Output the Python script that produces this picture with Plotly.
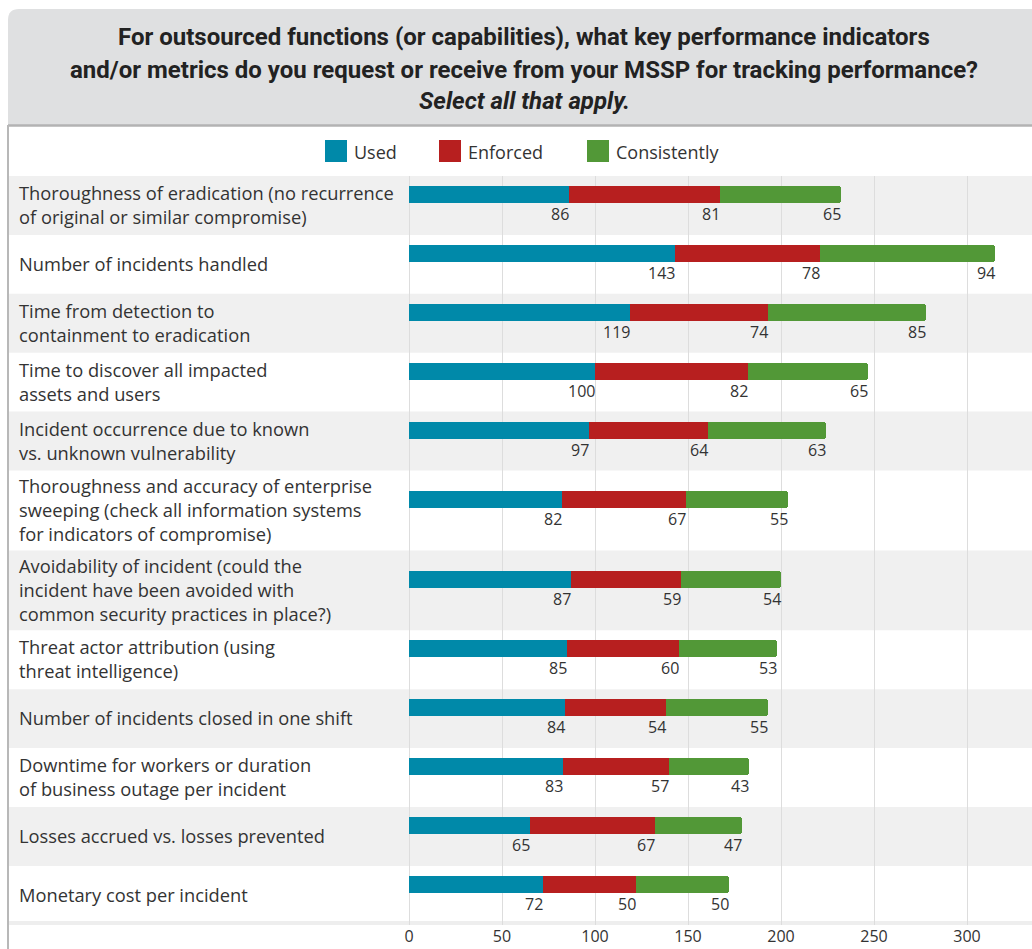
import plotly.graph_objects as go

# ---- data -------------------------------------------------------------
categories = [
    "Thoroughness of eradication (no recurrence<br>of original or similar compromise)",
    "Number of incidents handled",
    "Time from detection to<br>containment to eradication",
    "Time to discover all impacted<br>assets and users",
    "Incident occurrence due to known<br>vs. unknown vulnerability",
    "Thoroughness and accuracy of enterprise<br>sweeping (check all information systems<br>for indicators of compromise)",
    "Avoidability of incident (could the<br>incident have been avoided with<br>common security practices in place?)",
    "Threat actor attribution (using<br>threat intelligence)",
    "Number of incidents closed in one shift",
    "Downtime for workers or duration<br>of business outage per incident",
    "Losses accrued vs. losses prevented",
    "Monetary cost per incident",
]
used = [86, 143, 119, 100, 97, 82, 87, 85, 84, 83, 65, 72]
enforced = [81, 78, 74, 82, 64, 67, 59, 60, 54, 57, 67, 50]
consistently = [65, 94, 85, 65, 63, 55, 54, 53, 55, 43, 47, 50]

series_names = ["Used", "Enforced", "Consistently"]
series_colors = ["#0089a9", "#b71f1f", "#529837"]
tick_values = [0, 50, 100, 150, 200, 250, 300]

title_lines = [
    "For outsourced functions (or capabilities), what key performance indicators",
    "and/or metrics do you request or receive from your MSSP for tracking performance?",
]
subtitle = "Select all that apply."

# ---- page geometry (pixels) ------------------------------------------
W, H = 1032, 949
PL, PR, PT, PB = 409, 1032, 176, 925          # plot area edges
PX_PER_UNIT = 1.86
X_MAX = (PR - PL) / PX_PER_UNIT

ROW_H2 = 58.9        # row holding one or two text lines
LINE_H = 21.0        # extra height per additional text line
BAR_W = 17
BAR_SHIFT = -11      # bar sits above the row centre, value labels below it
LABEL_DROP = 19.5

FONT = "Open Sans, Noto Sans, sans-serif"
TITLE_FONT = "Roboto, Open Sans, sans-serif"
TEXT = "#333333"


def xp(px):
    return (px - PL) / (PR - PL)


def yp(py):
    return (PB - py) / (PB - PT)


# row layout in pixel-like y units (0 = top of plot area)
row_top, row_mid = [], []
cursor = 0.0
for label in categories:
    n_lines = label.count("<br>") + 1
    h = ROW_H2 + LINE_H * max(0, n_lines - 2)
    row_top.append((cursor, cursor + h))
    row_mid.append(cursor + h / 2)
    cursor += h
bar_pos = [m + BAR_SHIFT for m in row_mid]

series = [used, enforced, consistently]

fig = go.Figure()
for name, vals, col in zip(series_names, series, series_colors):
    fig.add_trace(go.Bar(
        orientation="h", x=vals, y=bar_pos, width=BAR_W, name=name,
        marker=dict(color=col, line=dict(width=0), cornerradius=3),
        showlegend=False, hoverinfo="x+name",
    ))

shapes = []
annotations = []

# header panel with the question
shapes.append(dict(
    type="path", xref="paper", yref="paper", layer="below",
    path=(f"M {xp(8)},{yp(126)} L {xp(8)},{yp(20)} "
          f"Q {xp(8)},{yp(9)} {xp(19)},{yp(9)} "
          f"L {xp(1040)},{yp(9)} L {xp(1040)},{yp(126)} Z"),
    fillcolor="#dfe0e1", line=dict(width=0),
))
shapes.append(dict(type="line", xref="paper", yref="paper", layer="above",
                   x0=xp(8), x1=xp(1040), y0=yp(125.5), y1=yp(125.5),
                   line=dict(color="#b3b3b3", width=2.5)))
shapes.append(dict(type="line", xref="paper", yref="paper", layer="above",
                   x0=xp(8), x1=xp(8), y0=yp(125), y1=yp(955),
                   line=dict(color="#b8b8b8", width=2)))

title_rows = ["<b>" + t + "</b>" for t in title_lines] + ["<b><i>" + subtitle + "</i></b>"]
for txt, ty in zip(title_rows, [37, 70, 101]):
    annotations.append(dict(
        xref="paper", yref="paper", x=xp(524), y=yp(ty), xanchor="center", yanchor="middle",
        text=txt, showarrow=False,
        font=dict(family=TITLE_FONT, size=24, color="#222222"),
    ))

# legend
legend_x = [325, 439, 587]
for name, col, lx in zip(series_names, series_colors, legend_x):
    shapes.append(dict(type="rect", xref="paper", yref="paper", layer="above",
                       x0=xp(lx), x1=xp(lx + 22), y0=yp(162), y1=yp(140),
                       fillcolor=col, line=dict(width=0)))
    annotations.append(dict(xref="paper", yref="paper", x=xp(lx + 27), y=yp(152),
                            xanchor="left", yanchor="middle", text=name, showarrow=False,
                            font=dict(family=FONT, size=18, color=TEXT)))

# alternating row bands
for i, (t0, t1) in enumerate(row_top):
    if i % 2 == 0:
        shapes.append(dict(type="rect", xref="paper", yref="y", layer="below",
                           x0=xp(9), x1=xp(1040), y0=t0, y1=t1,
                           fillcolor="#f0f0f0", line=dict(width=0)))
shapes.append(dict(type="rect", xref="paper", yref="paper", layer="below",
                   x0=xp(9), x1=xp(1040), y0=yp(925), y1=yp(921),
                   fillcolor="#eeeeee", line=dict(width=0)))

# category labels
for label, mid in zip(categories, row_mid):
    annotations.append(dict(xref="paper", yref="y", x=xp(17), y=mid - 1,
                            xanchor="left", yanchor="middle", align="left",
                            text=label, showarrow=False,
                            font=dict(family=FONT, size=18.3, color=TEXT)))

# value labels under the end of each segment
for i in range(len(categories)):
    total = 0
    for vals in series:
        total += vals[i]
        annotations.append(dict(xref="x", yref="y", x=total, y=bar_pos[i] + LABEL_DROP,
                                xanchor="right", yanchor="middle", text=str(vals[i]),
                                showarrow=False, xshift=2,
                                font=dict(family=FONT, size=16, color=TEXT)))

fig.update_layout(
    width=W, height=H,
    margin=dict(l=PL, r=W - PR, t=PT, b=H - PB),
    barmode="stack", bargap=0,
    paper_bgcolor="white", plot_bgcolor="rgba(0,0,0,0)",
    shapes=shapes, annotations=annotations,
    showlegend=False,
    xaxis=dict(range=[0, X_MAX], tickvals=tick_values, showgrid=True,
               gridcolor="#dddddd", gridwidth=1, zeroline=True,
               zerolinecolor="#dddddd", zerolinewidth=1, showline=False,
               ticks="", tickfont=dict(family=FONT, size=16, color=TEXT),
               fixedrange=True),
    yaxis=dict(range=[PB - PT, 0], visible=False, fixedrange=True),
)

fig.write_html("out.html")
